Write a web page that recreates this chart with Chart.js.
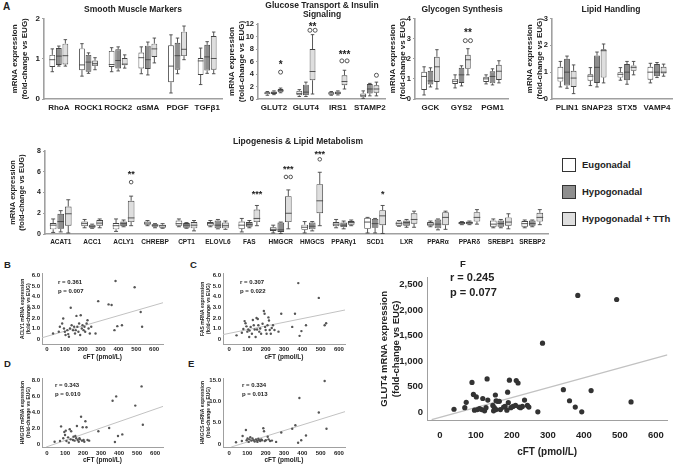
<!DOCTYPE html>
<html>
<head>
<meta charset="utf-8">
<script src="https://cdn.jsdelivr.net/npm/chart.js@4.4.0/dist/chart.umd.min.js"></script>
<style>
  body { margin: 0; background: #fff; }
  #fig { position: relative; width: 676px; height: 467px; overflow: hidden;
         font-family: "Liberation Sans", Arial, sans-serif; font-weight: bold; color: #222; }
  #fig canvas { position: absolute; }
  .t { position: absolute; white-space: nowrap; line-height: 1; }
  .sw { position: absolute; border: 1.5px solid #333; box-sizing: border-box; }
</style>
</head>
<body>
<div id="fig"></div>
<script>
// groups (legend)
const groups = ['Eugonadal', 'Hypogonadal', 'Hypogonadal + TTh'];
const fills = ['#ffffff', '#8e8e8e', '#dedede'];

// box stats: [whisker low, q1, median, q3, whisker high]
const smGenes = ['RhoA', 'ROCK1', 'ROCK2', 'αSMA', 'PDGF', 'TGFβ1'];
const smEug = [[0.68, 0.8, 0.98, 1.1, 1.25], [0.57, 0.72, 0.85, 1.26, 1.38], [0.68, 0.8, 0.86, 1.2, 1.28],
               [0.63, 0.76, 1.03, 1.16, 1.3], [0.15, 0.42, 0.82, 1.34, 1.6], [0.36, 0.6, 0.95, 1.02, 1.27]];
const smHypo = [[0.82, 0.85, 1.07, 1.27, 1.32], [0.64, 0.68, 0.92, 1.1, 1.15], [0.7, 0.76, 0.96, 1.24, 1.3],
                [0.6, 0.75, 0.98, 1.33, 1.42], [0.63, 0.73, 1.08, 1.4, 1.52], [0.64, 0.71, 1.05, 1.35, 1.43]];
const smTth = [[0.82, 0.86, 1.08, 1.38, 1.48], [0.73, 0.82, 0.88, 0.96, 1.03], [0.77, 0.84, 0.87, 1.02, 1.1],
               [0.9, 1.05, 1.25, 1.38, 1.52], [0.98, 1.07, 1.24, 1.68, 1.82], [0.63, 0.73, 1.01, 1.57, 1.67]];

const gluGenes = ['GLUT2', 'GLUT4', 'IRS1', 'STAMP2'];
const gluEug = [[0.6, 0.75, 0.95, 1.1, 1.2], [0.4, 0.6, 0.9, 1.3, 1.5], [0.6, 0.7, 0.95, 1.1, 1.2], [0.1, 0.3, 0.6, 0.9, 1.3]];
const gluHypo = [[0.7, 0.8, 1.0, 1.2, 1.3], [0.4, 0.6, 1.1, 2.3, 2.7], [0.65, 0.75, 0.95, 1.2, 1.3], [0.5, 0.9, 1.6, 2.4, 2.5]];
const gluTth = [[1.0, 1.1, 1.35, 1.6, 1.75], [0.8, 3.0, 4.4, 8.0, 10.3], [1.6, 2.2, 2.8, 3.8, 4.6], [0.5, 1.0, 1.6, 2.2, 2.7]];
const gluOut = [[4.3], [11.0, 11.0], [6.1, 6.1], [3.8]];
const gluStars = ['*', '**', '***', ''];
const gluStarY = [5.8, 11.9, 7.5, 0];

const gsGenes = ['GCK', 'GYS2', 'PGM1'];
const gsEug = [[0.2, 0.45, 1.12, 1.35, 1.6], [0.55, 0.75, 0.88, 1.0, 1.2], [0.75, 0.85, 1.0, 1.1, 1.2]];
const gsHypo = [[0.6, 0.72, 0.9, 1.4, 1.55], [0.65, 0.8, 1.2, 1.55, 1.65], [0.7, 0.78, 1.12, 1.38, 1.5]];
const gsTth = [[0.5, 0.85, 1.6, 2.1, 2.45], [1.2, 1.5, 1.95, 2.2, 2.5], [0.8, 0.95, 1.38, 1.7, 1.9]];
const gsOut = [[], [2.9, 2.9], []];
const gsStars = ['', '**', ''];
const gsStarY = [0, 3.4, 0];

const lhGenes = ['PLIN1', 'SNAP23', 'STX5', 'VAMP4'];
const lhEug = [[0.45, 0.65, 0.78, 1.2, 1.4], [0.5, 0.68, 0.85, 0.92, 1.17], [0.7, 0.8, 0.92, 1.0, 1.17], [0.6, 0.72, 1.0, 1.2, 1.33]];
const lhHypo = [[0.4, 0.5, 1.0, 1.5, 1.6], [0.45, 0.6, 1.18, 1.62, 1.75], [0.55, 0.7, 1.0, 1.3, 1.4], [0.8, 0.85, 1.0, 1.3, 1.36]];
const lhTth = [[0.2, 0.45, 0.78, 1.05, 1.27], [0.6, 0.8, 1.8, 1.85, 2.05], [0.9, 1.05, 1.18, 1.25, 1.4], [0.85, 0.95, 1.0, 1.2, 1.3]];

const lipGenes = ['ACAT1', 'ACC1', 'ACLY1', 'CHREBP', 'CPT1', 'ELOVL6', 'FAS', 'HMGCR', 'HMGCS',
                  'PPARγ1', 'SCD1', 'LXR', 'PPARα', 'PPARδ', 'SREBP1', 'SREBP2'];
const lipEug = [[0.15, 0.45, 0.85, 1.05, 1.45], [0.6, 0.75, 1.0, 1.2, 1.4], [0.25, 0.45, 0.8, 1.05, 1.45],
  [0.8, 0.9, 1.05, 1.2, 1.3], [0.7, 0.8, 1.0, 1.3, 1.45], [0.7, 0.8, 1.0, 1.15, 1.3], [0.2, 0.5, 0.85, 1.2, 1.5],
  [0.1, 0.3, 0.45, 0.65, 0.85], [0.1, 0.4, 0.65, 0.9, 1.2], [0.6, 0.75, 0.95, 1.15, 1.4], [0.1, 0.5, 1.15, 1.55, 1.6],
  [0.75, 0.8, 1.0, 1.2, 1.3], [0.7, 0.8, 0.95, 1.15, 1.25], [0.9, 0.95, 1.05, 1.15, 1.2], [0.6, 0.7, 0.95, 1.3, 1.45],
  [0.6, 0.7, 1.0, 1.25, 1.35]];
const lipHypo = [[0.2, 0.5, 1.2, 1.95, 2.25], [0.55, 0.6, 0.75, 0.9, 0.95], [0.7, 0.75, 1.0, 1.2, 1.35],
  [0.6, 0.7, 0.85, 0.95, 1.0], [0.55, 0.6, 0.85, 1.05, 1.1], [0.5, 0.55, 0.85, 1.3, 1.4], [0.6, 0.7, 0.9, 1.15, 1.3],
  [0.05, 0.2, 0.4, 1.1, 1.15], [0.3, 0.45, 0.75, 1.1, 1.2], [0.5, 0.65, 0.85, 1.1, 1.25], [0.1, 0.6, 1.0, 1.45, 1.5],
  [0.65, 0.8, 1.1, 1.3, 1.4], [0.4, 0.55, 0.95, 1.4, 1.45], [0.9, 0.95, 1.1, 1.2, 1.25], [0.6, 0.7, 1.0, 1.3, 1.4],
  [0.7, 0.8, 1.0, 1.3, 1.35]];
const lipTth = [[0.1, 0.8, 1.95, 2.65, 3.3], [0.6, 0.8, 1.05, 1.35, 1.45], [0.8, 1.15, 1.55, 3.2, 3.65],
  [0.55, 0.6, 0.8, 0.9, 1.0], [0.3, 0.55, 0.85, 1.15, 1.3], [0.45, 0.55, 0.8, 1.1, 1.25], [0.8, 1.15, 1.5, 2.35, 2.75],
  [0.5, 1.15, 2.0, 3.65, 4.25], [0.8, 2.0, 3.2, 4.8, 5.95], [0.8, 0.9, 1.1, 1.25, 1.35], [0.05, 0.85, 1.75, 2.3, 2.75],
  [0.65, 1.0, 1.4, 2.0, 2.2], [0.45, 0.85, 1.6, 2.1, 2.2], [0.95, 1.2, 1.6, 2.1, 2.35], [0.5, 0.8, 1.15, 1.6, 1.95],
  [0.9, 1.2, 1.6, 2.05, 2.35]];
const lipOut = [[], [], [5.0], [], [], [], [], [5.5, 5.5], [7.2], [], [], [], [], [], [], []];
const lipStars = ['', '', '**', '', '', '', '***', '***', '***', '', '*', '', '', '', '', ''];
const lipStarY = [0, 0, 6.0, 0, 0, 0, 4.0, 6.5, 7.9, 0, 4.0, 0, 0, 0, 0, 0];

// scatter panels: [cFT pmol/L, fold-change]
const aclyPts = [[34, 0.53], [66, 0.69], [72, 1.16], [85, 1.47], [91, 1.94], [95, 1.0], [100, 0.69], [104, 0.38],
  [114, 0.84], [119, 0.47], [123, 0.22], [129, 1.0], [133, 2.97], [138, 1.31], [146, 0.84], [152, 1.16], [157, 0.53],
  [161, 0.84], [165, 2.19], [170, 1.16], [176, 0.69], [180, 1.47], [186, 0.38], [189, 2.25], [195, 1.0], [199, 1.31],
  [205, 0.84], [210, 1.16], [214, 0.69], [222, 1.47], [227, 1.78], [233, 1.0], [240, 0.53], [248, 1.16], [272, 0.53],
  [287, 3.59], [345, 3.28], [362, 3.22], [378, 0.84], [384, 5.5], [394, 1.22], [420, 1.31], [491, 4.9], [525, 2.56],
  [533, 1.16]];
const aclyLine = [[-28, 0.12], [650, 3.44]];

const fasPts = [[41, 0.35], [70, 0.6], [78, 0.95], [85, 1.7], [90, 1.5], [95, 1.2], [100, 0.7], [105, 0.9], [110, 0.2],
  [112, 0.8], [118, 1.15], [125, 0.5], [130, 1.8], [135, 1.3], [140, 0.9], [145, 0.2], [150, 2.0], [153, 0.9], [157, 1.9],
  [160, 1.3], [165, 0.7], [170, 1.0], [175, 0.5], [183, 1.45], [190, 2.65], [194, 2.4], [197, 1.15], [200, 0.85],
  [205, 0.5], [210, 1.3], [215, 2.05], [218, 1.75], [222, 0.85], [228, 0.5], [233, 1.05], [240, 1.3], [248, 0.85],
  [270, 0.7], [285, 2.4], [345, 1.15], [360, 2.4], [378, 5.3], [385, 0.3], [395, 0.75], [420, 1.3], [490, 3.9],
  [522, 1.3], [530, 1.5]];
const fasLine = [[-33, 0.42], [633, 2.75]];

const hmgcrPts = [[42, 0.29], [72, 0.37], [78, 2.2], [90, 0.71], [96, 1.5], [100, 1.12], [104, 1.67], [108, 0.37],
  [117, 0.83], [121, 0.17], [126, 1.85], [131, 0.58], [134, 1.6], [144, 0.5], [147, 0.92], [153, 0.42], [157, 1.0],
  [162, 0.71], [166, 2.25], [170, 0.5], [176, 0.29], [180, 0.71], [183, 0.58], [189, 3.4], [194, 0.42], [198, 2.1],
  [203, 0.5], [207, 0.29], [213, 2.85], [219, 2.1], [225, 0.5], [234, 0.42], [285, 1.6], [345, 2.0], [364, 5.4],
  [377, 0.25], [384, 5.95], [394, 1.0], [418, 1.2], [490, 4.8], [525, 7.2], [532, 2.4]];
const hmgcrLine = [[-5, -0.375], [644, 4.7]];

const hmgcsPts = [[38, 0.4], [70, 0.7], [74, 1.9], [92, 3.3], [96, 0.9], [101, 1.3], [107, 0.5], [111, 1.1], [116, 1.6],
  [122, 0.8], [128, 1.3], [134, 0.9], [140, 0.6], [147, 1.1], [152, 0.8], [155, 0.5], [160, 1.25], [165, 0.9],
  [170, 0.7], [176, 1.1], [180, 0.9], [187, 3.7], [191, 3.0], [195, 0.7], [201, 0.9], [211, 1.7], [216, 1.1], [224, 0.7],
  [234, 0.8], [257, 0.5], [285, 2.7], [345, 3.6], [362, 4.4], [377, 0.3], [384, 10.8], [394, 0.9], [420, 2.0],
  [490, 7.4], [522, 14.8], [532, 3.6]];
const hmgcsLine = [[12, -0.7], [633, 7.6]];

const glut4Pts = [[39, 62], [69, 93], [73, 198], [89, 586], [93, 352], [101, 302], [96, 43], [104, 56], [110, 74],
  [116, 56], [119, 272], [124, 31], [128, 93], [131, 654], [133, 241], [147, 136], [149, 31], [151, 93], [154, 340],
  [156, 228], [156, 56], [160, 216], [165, 216], [168, 56], [177, 105], [181, 117], [186, 43], [190, 191], [188, 395],
  [193, 630], [197, 93], [203, 117], [210, 136], [212, 623], [217, 574], [220, 105], [224, 93], [229, 117], [235, 241],
  [243, 136], [247, 105], [272, 12], [285, 1352], [343, 444], [360, 228], [376, 105], [383, 2284], [394, 12],
  [420, 426], [491, 2204], [531, 204]];
const glut4Line = [[-23, -142], [632, 1122]];

// tick labels
const cftTicks = [0, 100, 200, 300, 400, 500, 600];
const cftLabels = ['0', '100', '200', '300', '400', '500', '600'];
const y6Ticks = [0, 1, 2, 3, 4, 5, 6];
const y6Labels = ['0', '1.0', '2.0', '3.0', '4.0', '5.0', '6.0'];
const y8Ticks = [0, 2, 4, 6, 8];
const y8Labels = ['0', '2.0', '4.0', '6.0', '8.0'];
const y15Ticks = [0, 5, 10, 15];
const y15Labels = ['0', '5.0', '10.0', '15.0'];
const glutTicks = [0, 500, 1000, 1500, 2000, 2500];
const glutLabels = ['0', '500', '1,000', '1,500', '2,000', '2,500'];

Chart.defaults.font.family = '"Liberation Sans", Arial, sans-serif';
Chart.defaults.font.weight = 'bold';
Chart.defaults.color = '#222';

const fig = document.getElementById('fig');

function makeCanvas(box) {
  const c = document.createElement('canvas');
  c.width = box[2]; c.height = box[3];
  c.style.left = box[0] + 'px'; c.style.top = box[1] + 'px';
  c.style.width = box[2] + 'px'; c.style.height = box[3] + 'px';
  fig.appendChild(c);
  return c;
}

function addText(str, x, y, size, centered) {
  const d = document.createElement('div');
  d.className = 't';
  d.textContent = str;
  d.style.fontSize = size + 'px';
  d.style.left = x + 'px'; d.style.top = y + 'px';
  d.style.transform = centered ? 'translate(-50%,-50%)' : 'translate(0,-50%)';
  fig.appendChild(d);
}

// whiskers, medians, outliers and significance stars
const boxPlugin = {
  id: 'boxes',
  afterDatasetsDraw(chart) {
    const o = chart.options.plugins.boxes;
    if (!o || !o.on) return;
    const ctx = chart.ctx, ys = chart.scales.y;
    const py = v => ys.getPixelForValue(v);
    ctx.save();
    ctx.strokeStyle = '#444';
    ctx.lineWidth = 0.9;
    chart.data.datasets.forEach((ds, di) => {
      chart.getDatasetMeta(di).data.forEach((bar, i) => {
        const s = ds.stats[i], x = bar.x, hw = bar.width / 2, cap = bar.width * 0.3;
        ctx.beginPath();
        ctx.moveTo(x, py(s[0])); ctx.lineTo(x, py(s[1]));
        ctx.moveTo(x, py(s[3])); ctx.lineTo(x, py(s[4]));
        ctx.moveTo(x - cap, py(s[0])); ctx.lineTo(x + cap, py(s[0]));
        ctx.moveTo(x - cap, py(s[4])); ctx.lineTo(x + cap, py(s[4]));
        ctx.moveTo(x - hw, py(s[2])); ctx.lineTo(x + hw, py(s[2]));
        ctx.stroke();
      });
    });
    const last = chart.getDatasetMeta(chart.data.datasets.length - 1).data;
    ctx.font = 'bold ' + o.starSize + 'px "Liberation Sans", Arial, sans-serif';
    ctx.textAlign = 'center';
    ctx.textBaseline = 'alphabetic';
    ctx.fillStyle = '#222';
    last.forEach((bar, i) => {
      const out = (o.outliers && o.outliers[i]) || [];
      out.forEach((v, k) => {
        const dx = out.length > 1 ? (k - (out.length - 1) / 2) * o.r * 2.6 : 0;
        ctx.beginPath();
        ctx.arc(bar.x + dx, py(v), o.r, 0, Math.PI * 2);
        ctx.stroke();
      });
      if (o.stars && o.stars[i]) ctx.fillText(o.stars[i], bar.x, py(o.starY[i]) + o.starSize * 0.55);
    });
    ctx.restore();
  }
};

function boxChart(o) {
  const [cx, cy, cw, ch] = o.box, [L, T, R, B] = o.area;
  const cv = makeCanvas(o.box);
  new Chart(cv, {
    type: 'bar',
    data: {
      labels: o.genes,
      datasets: o.stats.map((s, gi) => ({
        label: groups[gi],
        data: s.map(v => [v[1], v[3]]),
        stats: s,
        backgroundColor: fills[gi],
        borderColor: '#444',
        borderWidth: 0.9,
        borderSkipped: false,
        categoryPercentage: o.catPct,
        barPercentage: 0.88
      }))
    },
    options: {
      responsive: false, animation: false, events: [],
      layout: { padding: { left: 0, top: T - cy, right: cx + cw - R, bottom: 0 } },
      plugins: {
        legend: { display: false }, tooltip: { enabled: false },
        boxes: { on: true, outliers: o.outliers, stars: o.stars, starY: o.starY, starSize: o.starSize, r: o.r }
      },
      scales: {
        x: {
          grid: { display: false, drawTicks: false },
          border: { color: '#a0a0a0', width: 1.6 },
          ticks: { font: { size: o.xfs }, padding: o.xpad, maxRotation: 0, autoSkip: false },
          afterFit: s => { s.height = cy + ch - B; }
        },
        y: {
          min: 0, max: o.yMax,
          ticks: { stepSize: o.yStep, font: { size: o.yfs }, padding: 2 },
          grid: { display: true, drawOnChartArea: false, tickLength: 2, color: '#a0a0a0' },
          border: { color: '#a0a0a0', width: 1.6 },
          title: { display: true, text: ['mRNA expression', '(fold-change vs EUG)'], font: { size: o.tfs }, padding: 0 },
          afterFit: s => { s.width = L - cx; }
        }
      }
    },
    plugins: [boxPlugin]
  });
}

function scatterChart(o) {
  const [cx, cy, cw, ch] = o.box, [L, T, R, B] = o.area;
  const cv = makeCanvas(o.box);
  new Chart(cv, {
    type: 'scatter',
    data: {
      datasets: [
        { type: 'line', data: o.line.map(p => ({ x: p[0], y: p[1] })), borderColor: '#c2c2c2',
          borderWidth: o.lw, pointRadius: 0, fill: false, order: 2 },
        { data: o.pts.map(p => ({ x: p[0], y: p[1] })), pointRadius: o.pr, pointBackgroundColor: o.pc,
          pointBorderWidth: 0, order: 1 }
      ]
    },
    options: {
      responsive: false, animation: false, events: [],
      layout: { padding: { left: 0, top: T - cy, right: cx + cw - R, bottom: 0 } },
      plugins: { legend: { display: false }, tooltip: { enabled: false } },
      scales: {
        x: {
          type: 'linear', min: o.xr[0], max: o.xr[1],
          afterBuildTicks: s => { s.ticks = cftTicks.map(v => ({ value: v })); },
          ticks: { callback: (v, i) => cftLabels[i], font: { size: o.fs }, padding: o.xpad, maxRotation: 0, autoSkip: false },
          grid: { display: false, drawTicks: false },
          border: { color: '#a0a0a0', width: 1 },
          title: { display: true, text: 'cFT (pmol/L)', font: { size: o.xtfs }, padding: 0 },
          afterFit: s => { s.height = cy + ch - B; }
        },
        y: {
          min: o.yr[0], max: o.yr[1],
          afterBuildTicks: s => { s.ticks = o.yt.map(v => ({ value: v })); },
          ticks: { callback: (v, i) => o.yl[i], font: { size: o.fs }, padding: o.ypad, autoSkip: false },
          grid: { display: false, drawTicks: false },
          border: { color: '#a0a0a0', width: 1 },
          title: { display: true, text: o.ytitle, font: { size: o.ytfs }, padding: 0 },
          afterFit: s => { s.width = L - cx; }
        }
      }
    }
  });
}

// panel A, top row
boxChart({ box: [10, 12, 216, 110], area: [44, 15, 222, 99], genes: smGenes, stats: [smEug, smHypo, smTth],
  yMax: 2, yStep: 1, catPct: 0.66, xfs: 8, xpad: 4, yfs: 8, tfs: 8, starSize: 10, r: 2 });
boxChart({ box: [227, 0, 163, 122], area: [258, 24, 388, 99], genes: gluGenes, stats: [gluEug, gluHypo, gluTth],
  yMax: 12, yStep: 2, catPct: 0.62, xfs: 8, xpad: 4, yfs: 7.5, tfs: 8,
  outliers: gluOut, stars: gluStars, starY: gluStarY, starSize: 10, r: 2 });
boxChart({ box: [388, 12, 122, 110], area: [415, 16, 508, 99], genes: gsGenes, stats: [gsEug, gsHypo, gsTth],
  yMax: 4, yStep: 1, catPct: 0.62, xfs: 8, xpad: 4, yfs: 7.5, tfs: 8,
  outliers: gsOut, stars: gsStars, starY: gsStarY, starSize: 10, r: 2 });
boxChart({ box: [525, 12, 150, 110], area: [552, 16, 672, 99], genes: lhGenes, stats: [lhEug, lhHypo, lhTth],
  yMax: 3, yStep: 1, catPct: 0.66, xfs: 8, xpad: 4, yfs: 7.5, tfs: 8, starSize: 10, r: 2 });

// panel A, lipogenesis row
boxChart({ box: [8, 140, 545, 110], area: [45, 151, 548, 234], genes: lipGenes, stats: [lipEug, lipHypo, lipTth],
  yMax: 8, yStep: 2, catPct: 0.72, xfs: 6.5, xpad: 4, yfs: 7, tfs: 7.5,
  outliers: lipOut, stars: lipStars, starY: lipStarY, starSize: 9, r: 1.8 });

// panels B-E
const smallOpts = { fs: 6, xtfs: 6.5, ytfs: 5, pr: 1.2, pc: '#555', lw: 1 };
scatterChart(Object.assign({}, smallOpts, { box: [20, 268, 148, 93], area: [42, 273, 163, 344], pts: aclyPts, line: aclyLine,
  xr: [-28, 650], yr: [-0.47, 6.2], yt: y6Ticks, yl: y6Labels, xpad: 2, ypad: 2,
  ytitle: ['ACLY1 mRNA expression', '(fold-change vs EUG)'] }));
scatterChart(Object.assign({}, smallOpts, { box: [200, 268, 150, 93], area: [223, 273, 345, 344], pts: fasPts, line: fasLine,
  xr: [-33, 633], yr: [-0.47, 6.2], yt: y6Ticks, yl: y6Labels, xpad: 2, ypad: 2,
  ytitle: ['FAS mRNA expression', '(fold-change vs EUG)'] }));
scatterChart(Object.assign({}, smallOpts, { box: [20, 372, 148, 92], area: [42, 378, 163, 447], pts: hmgcrPts, line: hmgcrLine,
  xr: [-28, 644], yr: [-0.375, 8.25], yt: y8Ticks, yl: y8Labels, xpad: 3, ypad: 2,
  ytitle: ['HMGCR mRNA expression', '(fold-change vs EUG)'] }));
scatterChart(Object.assign({}, smallOpts, { box: [200, 372, 150, 92], area: [223, 378, 345, 447], pts: hmgcsPts, line: hmgcsLine,
  xr: [-33, 633], yr: [-0.7, 15.5], yt: y15Ticks, yl: y15Labels, xpad: 3, ypad: 2,
  ytitle: ['HMGCS mRNA expression', '(fold-change vs EUG)'] }));

// panel F
scatterChart({ box: [379, 268, 295, 190], area: [427, 272, 670, 420], pts: glut4Pts, line: glut4Line,
  xr: [-36, 632], yr: [-148, 2630], yt: glutTicks, yl: glutLabels, fs: 9.5, xtfs: 10, ytfs: 9.5,
  pr: 2.6, pc: '#333', lw: 1.2, xpad: 10, ypad: 4,
  ytitle: ['GLUT4 mRNA expression', '(fold-change vs EUG)'] });

// titles and labels
addText('A', 3, 7, 10, false);
addText('Smooth Muscle Markers', 133, 9, 8.5, true);
addText('Glucose Transport & Insulin', 322, 5, 8.5, true);
addText('Signaling', 322, 14, 8.5, true);
addText('Glycogen Synthesis', 462, 9, 8.5, true);
addText('Lipid Handling', 611, 9, 8.5, true);
addText('Lipogenesis & Lipid Metabolism', 298, 141, 8.5, true);

// legend
const legY = [165, 192, 219];
groups.forEach((g, i) => {
  const b = document.createElement('div');
  b.className = 'sw';
  b.style.left = '562px'; b.style.top = (legY[i] - 7) + 'px';
  b.style.width = '14px'; b.style.height = '14px';
  b.style.background = fills[i];
  fig.appendChild(b);
  addText(g, 582, legY[i], 9.5, false);
});

addText('B', 4, 265, 9.5, false);
addText('C', 190, 265, 9.5, false);
addText('D', 4, 364, 9.5, false);
addText('E', 188, 364, 9.5, false);
addText('F', 460, 264, 9.5, false);

addText('r = 0.361', 58, 282, 6, false);
addText('p = 0.007', 58, 291, 6, false);
addText('r = 0.307', 240, 282, 6, false);
addText('p = 0.022', 240, 291, 6, false);
addText('r = 0.343', 55, 385, 6, false);
addText('p = 0.010', 55, 394, 6, false);
addText('r = 0.334', 242, 385, 6, false);
addText('p = 0.013', 242, 394, 6, false);
addText('r = 0.245', 450, 277, 11, false);
addText('p = 0.077', 450, 292, 11, false);
</script>
</body>
</html>
